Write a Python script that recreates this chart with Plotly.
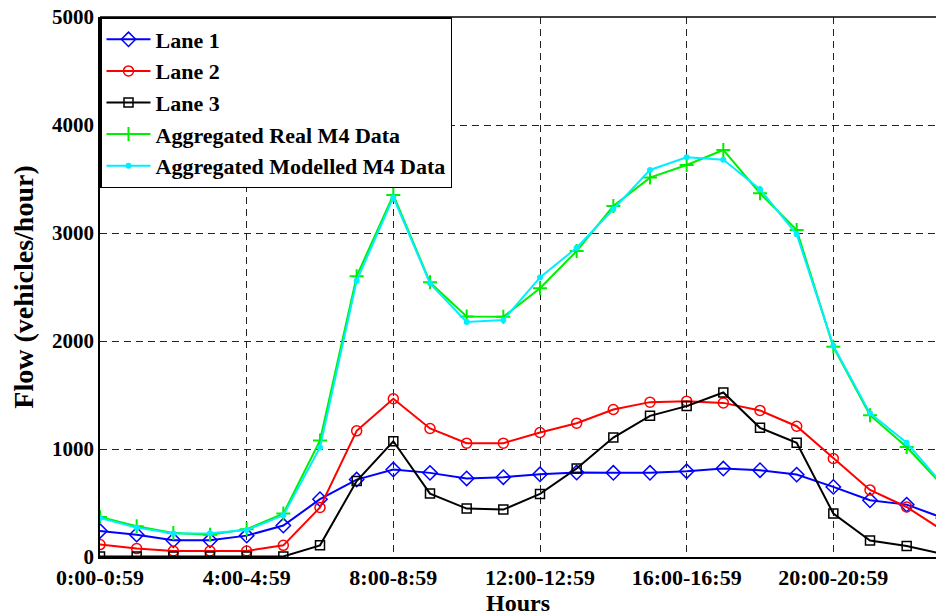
import plotly.graph_objects as go

hours = list(range(24))
tick_vals = [0, 4, 8, 12, 16, 20]
tick_text = ["0:00-0:59", "4:00-4:59", "8:00-8:59", "12:00-12:59", "16:00-16:59", "20:00-20:59"]
y_ticks = [0, 1000, 2000, 3000, 4000, 5000]

lane1 = [241, 207, 155, 155, 198, 291, 535, 717, 810, 779, 727, 739, 766, 782, 780, 780,
         794, 819, 804, 763, 649, 525, 485, 361]
lane2 = [115, 78, 56, 56, 56, 108, 458, 1168, 1465, 1190, 1054, 1054, 1153, 1239, 1366, 1434,
         1443, 1427, 1357, 1211, 912, 621, 463, 243]
lane3 = [5, 5, 5, 5, 5, 5, 108, 704, 1072, 587, 448, 439, 584, 819, 1106, 1307,
         1397, 1523, 1196, 1057, 402, 152, 102, 26]
real_m4 = [371, 284, 222, 207, 257, 402, 1079, 2600, 3352, 2543, 2228, 2224, 2488, 2833, 3250, 3513,
           3630, 3769, 3368, 3028, 1946, 1313, 1019, 654]
model_m4 = [361, 272, 217, 219, 250, 386, 1014, 2558, 3331, 2534, 2176, 2194, 2589, 2864, 3220, 3584,
            3701, 3679, 3405, 2988, 1956, 1330, 1057, 665]

FONT = "Liberation Serif"

fig = go.Figure()
fig.add_trace(go.Scatter(x=hours, y=lane1, name="Lane 1", mode="lines+markers",
                         line=dict(color="#0000ff", width=2),
                         marker=dict(symbol="diamond-open", size=11, color="#0000ff", line=dict(width=1.5))))
fig.add_trace(go.Scatter(x=hours, y=lane2, name="Lane 2", mode="lines+markers",
                         line=dict(color="#ff0000", width=2),
                         marker=dict(symbol="circle-open", size=10, color="#ff0000", line=dict(width=1.5))))
fig.add_trace(go.Scatter(x=hours, y=lane3, name="Lane 3", mode="lines+markers",
                         line=dict(color="#000000", width=2),
                         marker=dict(symbol="square-open", size=9, color="#000000", line=dict(width=1.5))))
fig.add_trace(go.Scatter(x=hours, y=real_m4, name="Aggregated Real M4 Data", mode="lines+markers",
                         line=dict(color="#00ee00", width=2),
                         marker=dict(symbol="cross-thin", size=10, color="#00ee00", line=dict(width=2, color="#00ee00"))))
fig.add_trace(go.Scatter(x=hours, y=model_m4, name="Aggregated Modelled M4 Data", mode="lines+markers",
                         line=dict(color="#00eeff", width=2),
                         marker=dict(symbol="circle", size=6, color="#00eeff")))

fig.update_layout(
    width=936, height=616,
    margin=dict(l=100, r=0, t=17, b=59, autoexpand=False),
    paper_bgcolor="white", plot_bgcolor="white",
    font=dict(family=FONT, color="black", size=21, weight="bold"),
    showlegend=True,
    legend=dict(x=0, y=1, xanchor="left", yanchor="top",
                bgcolor="white", bordercolor="black", borderwidth=1.5,
                font=dict(family=FONT, size=22, color="black", weight="bold"),
                itemwidth=44, tracegroupgap=0),
    xaxis=dict(range=[0, 22.8], tickvals=tick_vals, ticktext=tick_text,
               showgrid=True, gridcolor="#222222", griddash="7px,5px", gridwidth=1,
               showline=True, linecolor="black", linewidth=1.5, zeroline=False,
               ticks="", tickfont=dict(size=22, family=FONT, weight="bold"), automargin=False,
               ticklabeloverflow="allow",
               title=dict(text="Hours", font=dict(size=24, family=FONT, weight="bold"), standoff=0)),
    yaxis=dict(range=[0, 5000], tickvals=y_ticks,
               showgrid=True, gridcolor="#222222", griddash="7px,5px", gridwidth=1,
               showline=True, linecolor="black", linewidth=1.5, zeroline=False,
               ticks="", tickfont=dict(size=21, family=FONT, weight="bold"), automargin=False,
               ticklabeloverflow="allow",
               title=dict(text="Flow (vehicles/hour)", font=dict(size=28, family=FONT, weight="bold"), standoff=10)),
    shapes=[dict(type="line", xref="paper", yref="paper", x0=0, x1=1, y0=1, y1=1,
                 line=dict(color="black", width=1.5))],
)

fig.write_html("out.html", config={"displayModeBar": False},
               post_script="document.body.style.margin='0';document.body.style.overflow='hidden';")
